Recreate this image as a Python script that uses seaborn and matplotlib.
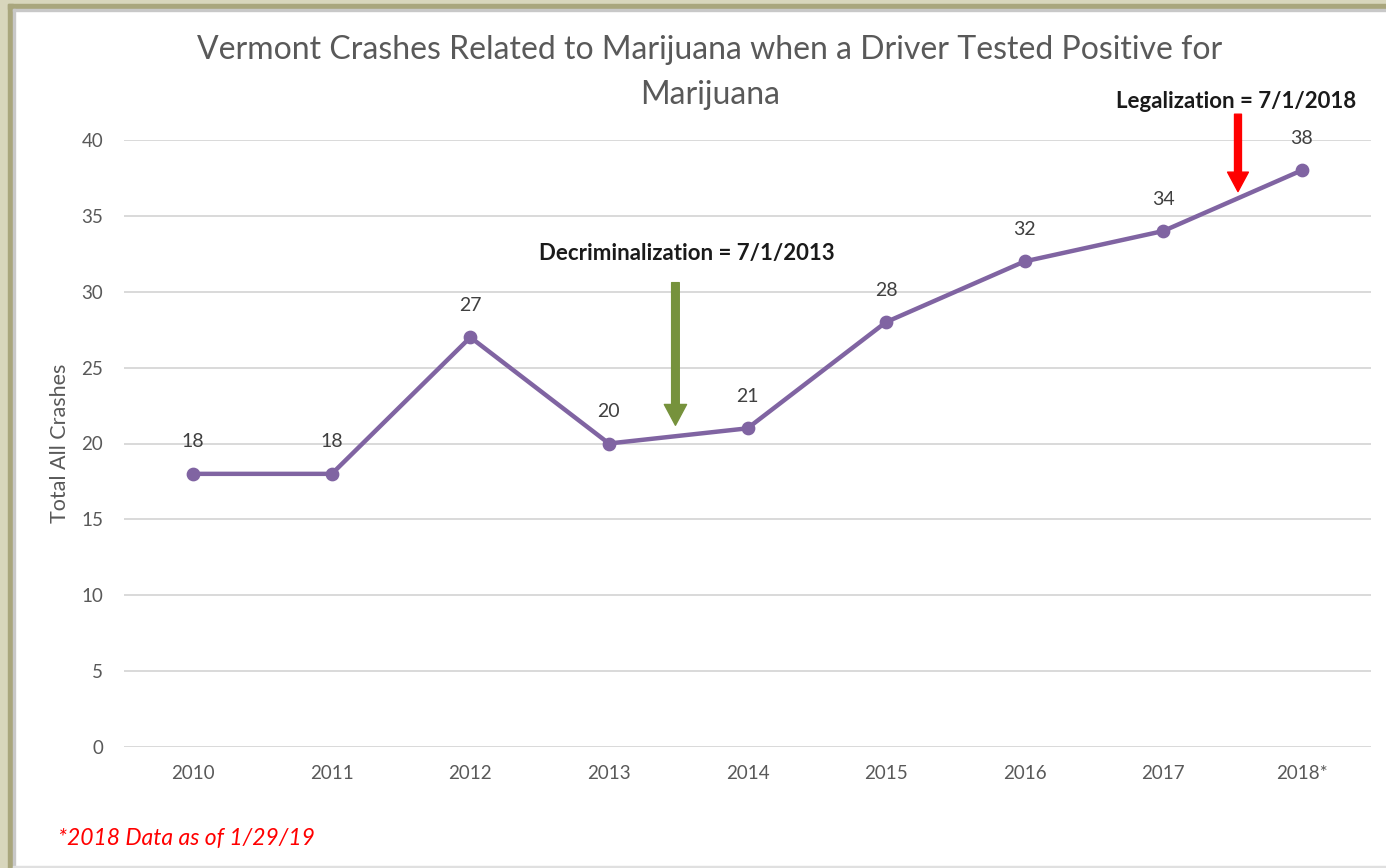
import matplotlib
matplotlib.use("Agg")
import matplotlib.pyplot as plt
import seaborn as sns
import pandas as pd
from matplotlib.patches import Rectangle

years = ["2010", "2011", "2012", "2013", "2014", "2015", "2016", "2017", "2018*"]
crashes = [18, 18, 27, 20, 21, 28, 32, 34, 38]
y_ticks = [0, 5, 10, 15, 20, 25, 30, 35, 40]

title_lines = ["Vermont Crashes Related to Marijuana when a Driver Tested Positive for",
               "Marijuana"]
y_label = "Total All Crashes"
decrim_text = "Decriminalization = 7/1/2013"
legal_text = "Legalization = 7/1/2018"
footnote = "*2018 Data as of 1/29/19"

LINE = "#8064A2"
GRID = "#D9D9D9"
TXT = "#595959"

sns.set_theme(style="white")
plt.rcParams["font.family"] = ["Lato", "DejaVu Sans"]

df = pd.DataFrame({"year": years, "crashes": crashes})

fig = plt.figure(figsize=(13.86, 8.68), dpi=100)
W, H = 1386, 868
ax = fig.add_axes([124 / W, 1 - 747 / H, (1371 - 124) / W, (747 - 140) / H])

sns.pointplot(data=df, x="year", y="crashes", color=LINE, markers="o",
              linestyles="-", ax=ax, linewidth=3.2, markersize=7.5)

ax.set_xlim(-0.5, len(years) - 0.5)
ax.set_ylim(0, 40)
ax.set_yticks(y_ticks)
ax.set_yticklabels([str(t) for t in y_ticks])
ax.yaxis.grid(True, color=GRID, linewidth=1.4)
ax.set_axisbelow(True)
for s in ax.spines.values():
    s.set_visible(False)
ax.tick_params(axis="both", length=0, labelsize=13.5, labelcolor=TXT)
ax.tick_params(axis="y", pad=15)
ax.tick_params(axis="x", pad=13)
ax.set_xlabel("")
ax.set_ylabel(y_label, fontsize=15.5, color=TXT)
ax.yaxis.set_label_coords(-0.043, 0.5)

# value labels above each point
for i, v in enumerate(crashes):
    ax.annotate(str(v), xy=(i, v), xytext=(0, 23), textcoords="offset points",
                ha="center", va="center", fontsize=14, color="#404040")

# decriminalization marker
ax.annotate("", xy=(3.48, 21.2), xytext=(3.48, 30.6),
            arrowprops=dict(width=5.5, headwidth=16, headlength=15,
                            color="#76923C", shrink=0), annotation_clip=False)
ax.text(3.56, 32.5, decrim_text, ha="center", va="center", fontsize=16,
        fontweight="bold", color="#1a1a1a")

# legalization marker
ax.annotate("", xy=(7.54, 36.6), xytext=(7.54, 41.7),
            arrowprops=dict(width=5.0, headwidth=15, headlength=14,
                            color="#FF0000", shrink=0), annotation_clip=False)
ax.text(7.53, 42.55, legal_text, ha="center", va="center", fontsize=16,
        fontweight="bold", color="#1a1a1a", clip_on=False)

# two-line title
fig.text(710 / W, 1 - 50 / H, title_lines[0], ha="center", va="center",
         fontsize=23, color=TXT)
fig.text(710 / W, 1 - 95 / H, title_lines[1], ha="center", va="center",
         fontsize=23, color=TXT)
fig.text(58 / W, 1 - 838 / H, footnote, ha="left", va="center",
         fontsize=16.5, color="#FF0000", style="italic")

# frame around the figure
fig.patches.append(Rectangle((0, 0), 8 / W, 1, transform=fig.transFigure,
                             color="#D8D6BC", zorder=0))
fig.patches.append(Rectangle((0, 1 - 4 / H), 1, 4 / H, transform=fig.transFigure,
                             color="#D8D6BC", zorder=0))
fig.patches.append(Rectangle((8 / W, 0), 5 / W, 1 - 4 / H, transform=fig.transFigure,
                             color="#A9A67D", zorder=0))
fig.patches.append(Rectangle((8 / W, 1 - 9 / H), 1, 5 / H, transform=fig.transFigure,
                             color="#A9A67D", zorder=0))
fig.patches.append(Rectangle((13 / W, 0), 1.5 / W, 1 - 9 / H, transform=fig.transFigure,
                             color="#C8C8C8", zorder=0))
fig.patches.append(Rectangle((13 / W, 1 - 10.5 / H), 1, 1.5 / H, transform=fig.transFigure,
                             color="#C8C8C8", zorder=0))
fig.patches.append(Rectangle((13 / W, 0), 1, 2 / H, transform=fig.transFigure,
                             color="#E0E0E0", zorder=0))

fig.savefig("out.png", dpi=100)
